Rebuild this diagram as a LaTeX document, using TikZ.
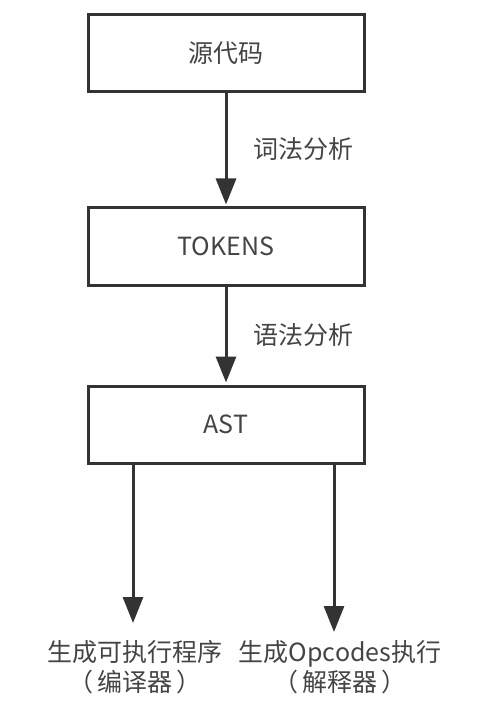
\documentclass[tikz,border=0pt]{standalone}
\usepackage{fontspec}
\setmainfont{Noto Sans CJK SC}
\usetikzlibrary{arrows.meta}
\definecolor{ink}{HTML}{333333}
\definecolor{txt}{HTML}{444444}
\tikzset{
  box/.style={draw=ink, line width=3pt, minimum width=276pt, minimum height=77pt, inner sep=0pt, text=txt, font=\fontsize{25}{30}\selectfont},
  conn/.style={draw=ink, line width=3pt, -{Triangle[length=26pt,width=20pt]}},
  lbl/.style={text=txt, font=\fontsize{25}{30}\selectfont, inner sep=0pt},
  outlbl/.style={text=txt, font=\fontsize{25}{30}\selectfont, align=center, inner sep=0pt}
}
\begin{document}
\begin{tikzpicture}[x=1pt,y=-1pt]
\useasboundingbox (0,0) rectangle (500,703);
\node[box] (src) at (226,53.5) {源代码};
\node[box] (tok) at (226,246.5) {TOKENS};
\node[box] (ast) at (226,424.5) {AST};
\node[lbl] (l1) at (303,149) {词法分析};
\node[lbl] (l2) at (303,335) {语法分析};
\coordinate (e1) at (133,623);
\coordinate (e2) at (334,632);
\node[outlbl] (o1) at (135,667) {生成可执行程序\\（\hspace{4pt}编译器\hspace{4pt}）};
\node[outlbl] (o2) at (340,667) {生成Opcodes执行\\（\hspace{4pt}解释器\hspace{4pt}）};
\draw[conn, shorten >=2pt] (src.south) -- (tok.north);
\draw[conn, shorten >=2pt] (tok.south) -- (ast.north);
\draw[conn] (ast.south -| e1) -- (e1);
\draw[conn] (ast.south -| e2) -- (e2);
\end{tikzpicture}
\end{document}
